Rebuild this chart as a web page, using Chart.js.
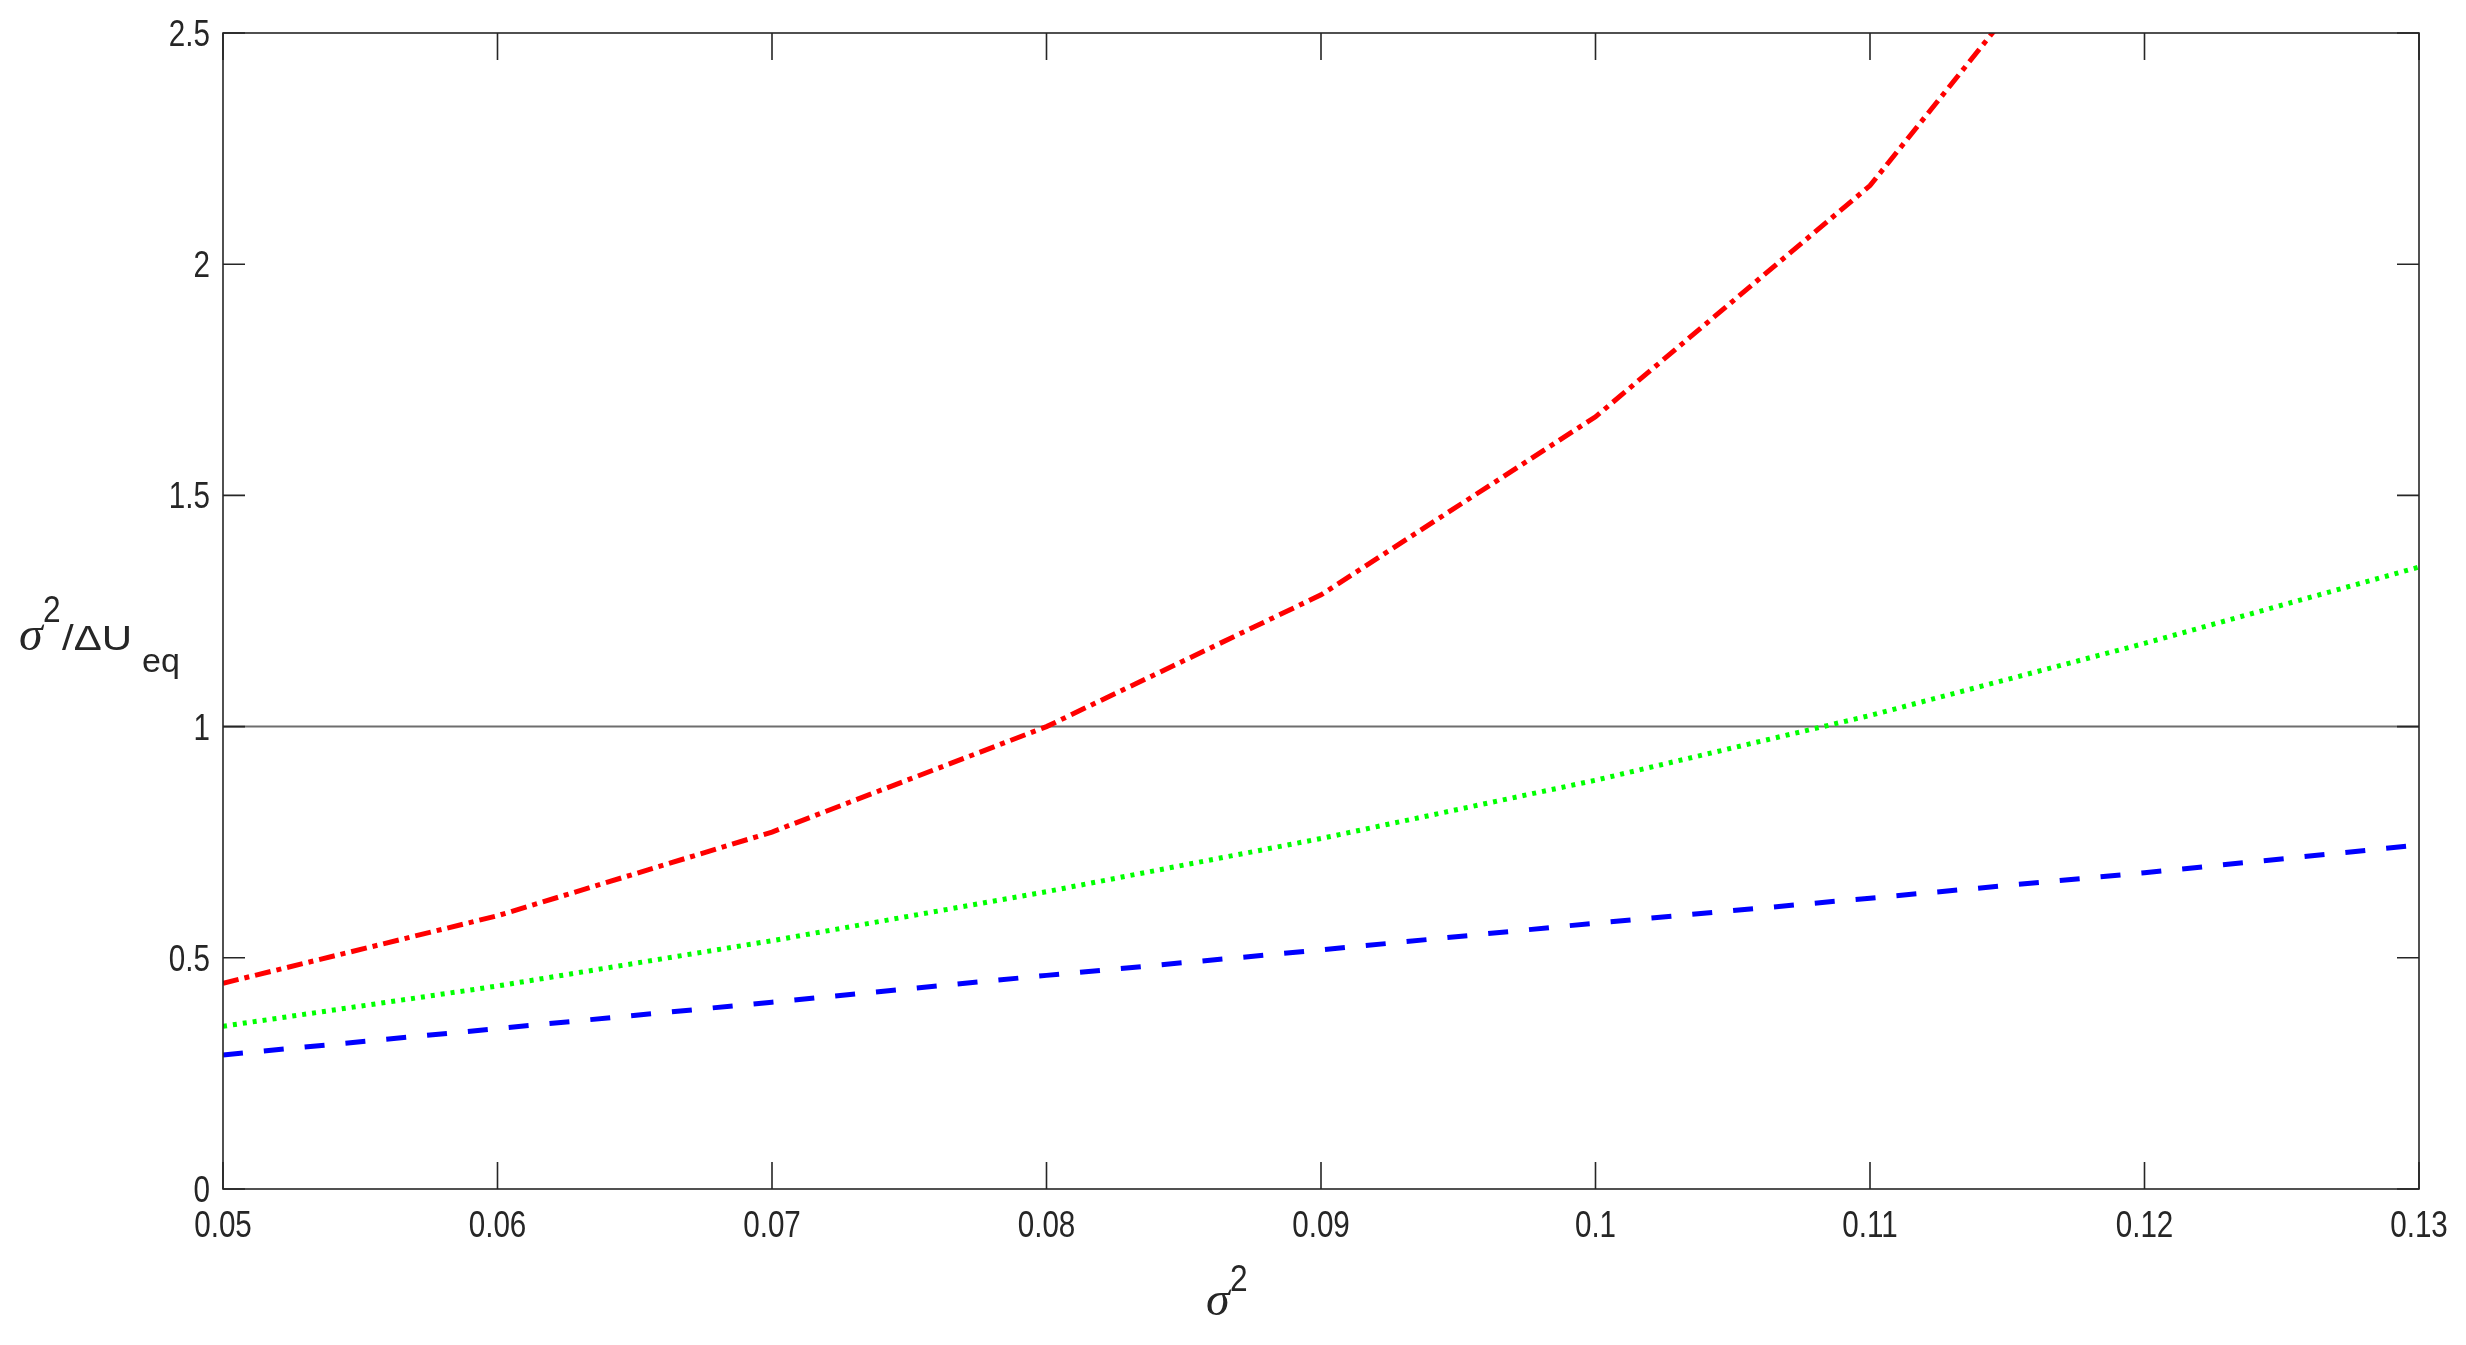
<!DOCTYPE html>
<html>
<head>
<meta charset="utf-8">
<script src="https://cdn.jsdelivr.net/npm/chart.js@4.4.1/dist/chart.umd.min.js"></script>
<style>
  html, body { margin: 0; padding: 0; background: #fff; overflow: hidden; }
  #wrap { width: 2466px; height: 1345px; }
</style>
</head>
<body>
<div id="wrap"><canvas id="chart" width="2466" height="1345"></canvas></div>
<script>
// sigma^2 sample points
var sigma2 = [0.05, 0.06, 0.07, 0.08, 0.09, 0.10, 0.11, 0.12, 0.13];
// curves
var redCurve = [0.445, 0.591, 0.772, 1.0, 1.285, 1.67, 2.17, 2.91, 3.85];
var greenCurve = [0.352, 0.439, 0.537, 0.643, 0.758, 0.884, 1.024, 1.18, 1.345];
var blueCurve = [0.29, 0.347, 0.404, 0.462, 0.517, 0.575, 0.629, 0.684, 0.744];
// horizontal reference at 1
var refX = [0.05, 0.13];
var refY = [1, 1];

var xTickLabels = ['0.05', '0.06', '0.07', '0.08', '0.09', '0.1', '0.11', '0.12', '0.13'];
var yTickLabels = ['0', '0.5', '1', '1.5', '2', '2.5'];

var sansFont = "'Liberation Sans', Arial, sans-serif";
var axisColor = '#262626';

function pts(xs, ys) {
    return xs.map(function (x, i) { return { x: x, y: ys[i] }; });
}

// text squeezed sideways, like the narrow labels of the original
function squeezed(ctx, text, x, y, sx, align) {
    ctx.save();
    ctx.translate(x, y);
    ctx.scale(sx, 1);
    ctx.textAlign = align;
    ctx.fillText(text, 0, 0);
    ctx.restore();
}

// box round the plot with inward ticks on every side, plus tick labels
var framePlugin = {
    id: 'frame',
    afterDatasetsDraw: function (chart) {
        var ctx = chart.ctx, a = chart.chartArea;
        var xs = chart.scales.x, ys = chart.scales.y;
        ctx.save();
        ctx.strokeStyle = axisColor;
        ctx.lineWidth = 1.6;
        ctx.strokeRect(a.left, a.top, a.right - a.left, a.bottom - a.top);
        ctx.beginPath();
        xs.ticks.forEach(function (t) {
            var px = xs.getPixelForValue(t.value);
            ctx.moveTo(px, a.bottom); ctx.lineTo(px, a.bottom - 27);
            ctx.moveTo(px, a.top); ctx.lineTo(px, a.top + 27);
        });
        ys.ticks.forEach(function (t) {
            var py = ys.getPixelForValue(t.value);
            ctx.moveTo(a.left, py); ctx.lineTo(a.left + 22, py);
            ctx.moveTo(a.right, py); ctx.lineTo(a.right - 22, py);
        });
        ctx.stroke();

        ctx.fillStyle = axisColor;
        ctx.font = '37px ' + sansFont;
        ctx.textBaseline = 'alphabetic';
        xs.ticks.forEach(function (t, i) {
            var px = xs.getPixelForValue(t.value);
            squeezed(ctx, xTickLabels[i], px, a.bottom + 48, 0.8, 'center');
        });
        ys.ticks.forEach(function (t, i) {
            var py = ys.getPixelForValue(t.value);
            squeezed(ctx, yTickLabels[i], a.left - 13, py + 13, 0.8, 'right');
        });
        ctx.restore();
    }
};

// draw a run of text pieces: [text, font, dx, dy, scaleX]
function drawRun(ctx, x, y, parts) {
    parts.forEach(function (p) {
        ctx.font = p[1];
        squeezed(ctx, p[0], x + p[2], y + p[3], p[4], 'left');
    });
}

var titlePlugin = {
    id: 'titles',
    afterDraw: function (chart) {
        var ctx = chart.ctx;
        ctx.save();
        ctx.fillStyle = axisColor;
        ctx.textBaseline = 'alphabetic';
        var greek = "italic 48px 'Liberation Serif', 'DejaVu Serif', serif";
        var sup = '36px ' + sansFont;
        var base = '35px ' + sansFont;
        var sub = '34px ' + sansFont;
        // y title
        drawRun(ctx, 19, 650, [
            ['\u03C3', greek, 0, 0, 1],
            ['2', sup, 24, -28, 0.88],
            ['/\u0394U', base, 43, 0, 1.2],
            ['eq', sub, 123, 22, 1]
        ]);
        // x title
        drawRun(ctx, 1206, 1315, [
            ['\u03C3', greek, 0, 0, 1],
            ['2', sup, 24, -24, 0.88]
        ]);
        ctx.restore();
    }
};

var ctx = document.getElementById('chart');
var chart = new Chart(ctx, {
    type: 'line',
    data: {
        datasets: [
            {
                label: 'red',
                data: pts(sigma2, redCurve),
                borderColor: '#ff0000',
                borderWidth: 5,
                borderDash: [16, 6, 5, 6]
            },
            {
                label: 'green',
                data: pts(sigma2, greenCurve),
                borderColor: '#00ff00',
                borderWidth: 5,
                borderDash: [4, 6]
            },
            {
                label: 'blue',
                data: pts(sigma2, blueCurve),
                borderColor: '#0000ff',
                borderWidth: 5,
                borderDash: [20, 21]
            },
            {
                label: 'ref',
                data: pts(refX, refY),
                borderColor: '#6e6e6e',
                borderWidth: 2
            }
        ]
    },
    options: {
        responsive: false,
        animation: false,
        devicePixelRatio: 1,
        elements: {
            point: { radius: 0, hoverRadius: 0 },
            line: { tension: 0, fill: false }
        },
        layout: { padding: { top: 33, right: 47, left: 0, bottom: 0 } },
        plugins: {
            legend: { display: false },
            tooltip: { enabled: false }
        },
        scales: {
            x: {
                type: 'linear',
                min: 0.05,
                max: 0.13,
                grid: { display: false, drawTicks: false },
                border: { display: false },
                afterBuildTicks: function (scale) {
                    scale.ticks = sigma2.map(function (v) { return { value: v }; });
                },
                afterFit: function (scale) { scale.height = 156; },
                ticks: { display: false }
            },
            y: {
                type: 'linear',
                min: 0,
                max: 2.5,
                grid: { display: false, drawTicks: false },
                border: { display: false },
                afterBuildTicks: function (scale) {
                    scale.ticks = yTickLabels.map(function (s) { return { value: parseFloat(s) }; });
                },
                afterFit: function (scale) { scale.width = 223; },
                ticks: { display: false }
            }
        }
    },
    plugins: [framePlugin, titlePlugin]
});
</script>
</body>
</html>
